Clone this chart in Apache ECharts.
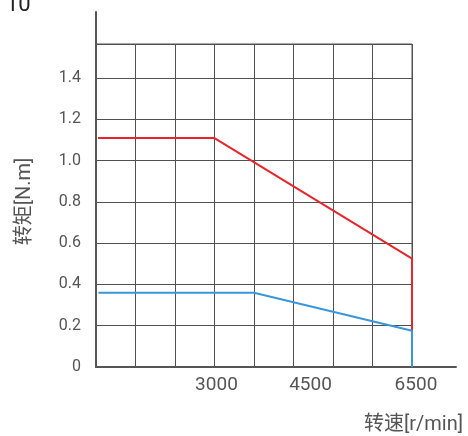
<!DOCTYPE html>
<html>
<head>
<meta charset="utf-8">
<script src="https://cdn.jsdelivr.net/npm/echarts@6/dist/echarts.min.js"></script>
<style>
html,body{margin:0;padding:0;background:#fff;}
#chart{width:468px;height:436px;}
</style>
</head>
<body>
<div id="chart"></div>
<script>
// Data (x in grid-cell units of the speed axis, y torque in N.m)
const redSpeed = [0.05, 3, 8, 8];
const redTorque = [1.11, 1.11, 0.525, 0.176];
const blueSpeed = [0.06, 4, 8, 8];
const blueTorque = [0.36, 0.36, 0.176, 0];
const yTickValues = [0, 0.2, 0.4, 0.6, 0.8, 1.0, 1.2, 1.4];
const yTickLabels = ['0', '0.2', '0.4', '0.6', '0.8', '1.0', '1.2', '1.4'];
const xTickValues = [3.05, 5.43, 8.1];
const xTickLabels = ['3000', '4500', '6500'];
const yAxisName = '转矩[N.m]';
const xAxisName = '转速[r/min]';
const cornerText = '10';

const FONT = "Roboto, 'Noto Sans CJK SC', sans-serif";
const GRID_COLOR = '#505050';
const TEXT_COLOR = '#555';

const PLOT_W = 316, AXIS_W = 360, X_CELLS = 8;

function zip(a, b) { return a.map((v, i) => [v, b[i]]); }

const chart = echarts.init(document.getElementById('chart'), null, {renderer: 'canvas'});
chart.setOption({
  animation: false,
  backgroundColor: '#fff',
  textStyle: {fontFamily: FONT},
  title: [
    {text: cornerText, left: 1, top: -11, textStyle: {fontSize: 22, fontWeight: 'normal', color: '#222', fontFamily: FONT}},
    {text: xAxisName, right: 0, top: 410, textStyle: {fontSize: 20, fontWeight: 'normal', color: TEXT_COLOR, fontFamily: FONT}}
  ],
  grid: [
    {left: 96, top: 44, width: PLOT_W, bottom: 69, show: true, borderColor: GRID_COLOR, borderWidth: 1, backgroundColor: 'transparent'},
    {left: 96, top: 12, width: AXIS_W, bottom: 69}
  ],
  xAxis: [
    {
      gridIndex: 0, type: 'value', min: 0, max: X_CELLS, interval: 1,
      axisLine: {show: false}, axisTick: {show: false}, axisLabel: {show: false},
      splitLine: {show: true, lineStyle: {color: GRID_COLOR, width: 1}}
    },
    {
      gridIndex: 1, type: 'value', min: 0, max: X_CELLS * AXIS_W / PLOT_W,
      axisLine: {show: true, onZero: false, lineStyle: {color: '#555', width: 2}},
      axisTick: {show: false}, splitLine: {show: false},
      axisLabel: {
        customValues: xTickValues,
        formatter: function (v) {
          for (let i = 0; i < xTickValues.length; i++) if (Math.abs(xTickValues[i] - v) < 1e-6) return xTickLabels[i];
          return '';
        },
        margin: 9, fontSize: 19, color: TEXT_COLOR, fontFamily: FONT
      }
    }
  ],
  yAxis: [
    {
      gridIndex: 0, type: 'value', min: 0, max: 1.566, interval: 0.2,
      name: yAxisName, nameLocation: 'middle', nameGap: 61,
      nameTextStyle: {fontSize: 20, color: TEXT_COLOR, fontFamily: FONT, padding: [0, 0, 0, 8]},
      axisLine: {show: false}, axisTick: {show: false},
      axisLabel: {
        formatter: function (v) {
          for (let i = 0; i < yTickValues.length; i++) if (Math.abs(yTickValues[i] - v) < 1e-6) return yTickLabels[i];
          return '';
        },
        margin: 15, fontSize: 16, color: TEXT_COLOR, fontFamily: FONT
      },
      splitLine: {show: true, lineStyle: {color: GRID_COLOR, width: 1}}
    },
    {
      gridIndex: 1, type: 'value', min: 0, max: 1,
      axisLine: {show: true, onZero: false, lineStyle: {color: '#555', width: 2}},
      axisTick: {show: false}, axisLabel: {show: false}, splitLine: {show: false}
    }
  ],
  series: [
    {
      type: 'line', xAxisIndex: 0, yAxisIndex: 0, symbol: 'none',
      data: zip(redSpeed, redTorque),
      lineStyle: {color: '#e8262a', width: 2}, z: 3
    },
    {
      type: 'line', xAxisIndex: 0, yAxisIndex: 0, symbol: 'none',
      data: zip(blueSpeed, blueTorque),
      lineStyle: {color: '#3a96da', width: 2}, z: 3
    }
  ]
});
</script>
</body>
</html>
